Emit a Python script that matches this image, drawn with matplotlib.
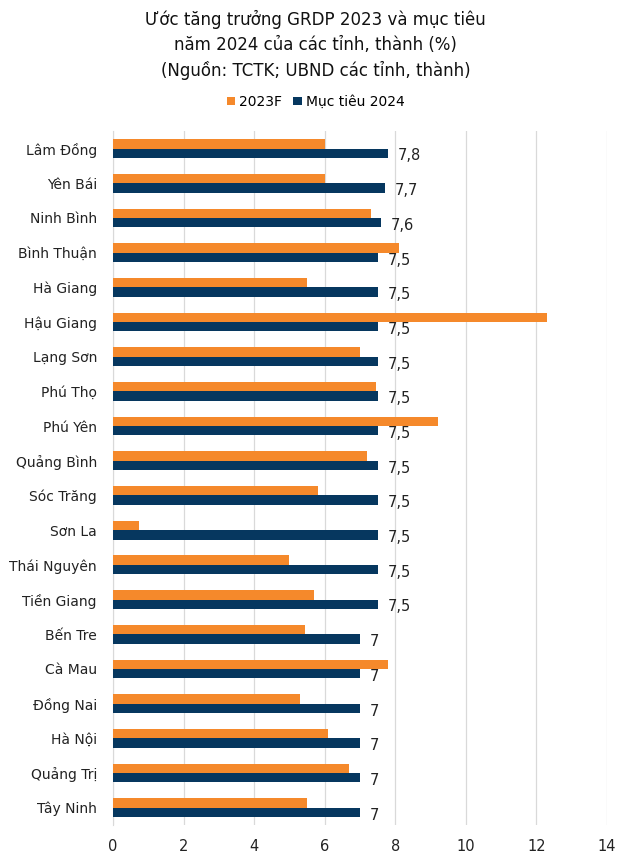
import matplotlib
matplotlib.use("Agg")
import matplotlib.pyplot as plt
import numpy as np

# du lieu
tinh = ["Lâm Đồng", "Yên Bái", "Ninh Bình", "Bình Thuận", "Hà Giang", "Hậu Giang",
        "Lạng Sơn", "Phú Thọ", "Phú Yên", "Quảng Bình", "Sóc Trăng", "Sơn La",
        "Thái Nguyên", "Tiền Giang", "Bến Tre", "Cà Mau", "Đồng Nai", "Hà Nội",
        "Quảng Trị", "Tây Ninh"]
uoc_2023 = [6.0, 6.0, 7.3, 8.1, 5.5, 12.3, 7.0, 7.45, 9.2, 7.2,
            5.8, 0.75, 5.0, 5.7, 5.45, 7.8, 5.3, 6.1, 6.7, 5.5]
muc_tieu_2024 = [7.8, 7.7, 7.6, 7.5, 7.5, 7.5, 7.5, 7.5, 7.5, 7.5,
                 7.5, 7.5, 7.5, 7.5, 7, 7, 7, 7, 7, 7]
xticks = [0, 2, 4, 6, 8, 10, 12, 14]

CAM = '#F5892B'
XANH = '#06375F'

plt.rcParams['font.family'] = ['DejaVu Sans']

fig = plt.figure(figsize=(6.31, 8.63), dpi=100)
ax = fig.add_axes([0.179, 0.044, 0.783, 0.804])

y = np.arange(len(tinh))
h = 0.27
ax.barh(y - h / 2, uoc_2023, height=h, color=CAM, label='2023F', zorder=3)
bars = ax.barh(y + h / 2, muc_tieu_2024, height=h, color=XANH, label='Mục tiêu 2024', zorder=3)

for b, v in zip(bars, muc_tieu_2024):
    txt = f"{v:g}".replace('.', ',')
    ax.annotate(txt, (b.get_width(), b.get_y() + b.get_height() / 2),
                xytext=(7, -2), textcoords='offset points', va='center', ha='left',
                fontsize=10.5, color='#222222', zorder=4)

ax.set_ylim(len(tinh) - 0.5, -0.5)
ax.set_xlim(0, 14)
ax.set_xticks(xticks)
ax.set_yticks(y)
ax.set_yticklabels(tinh, fontsize=10, color='#222222')
ax.tick_params(axis='x', labelsize=10.5, colors='#222222', length=0, pad=10)
ax.tick_params(axis='y', length=0, pad=11.5)
ax.grid(axis='x', color='#D9D9D9', linewidth=0.9, zorder=0)
for s in ['top', 'right', 'bottom']:
    ax.spines[s].set_visible(False)
ax.spines['left'].set_color('#D9D9D9')

fig.text(0.5, 0.988, 'Ước tăng trưởng GRDP 2023 và mục tiêu\nnăm 2024 của các tỉnh, thành (%)\n(Nguồn: TCTK; UBND các tỉnh, thành)',
         ha='center', va='top', fontsize=12, linespacing=1.45, color='#111111')

fig.legend(loc='center', bbox_to_anchor=(0.5, 0.882), ncol=2, frameon=False,
           fontsize=10, handlelength=0.6, handleheight=0.6, handletextpad=0.3,
           columnspacing=0.8)

fig.savefig('out.png', dpi=100)
